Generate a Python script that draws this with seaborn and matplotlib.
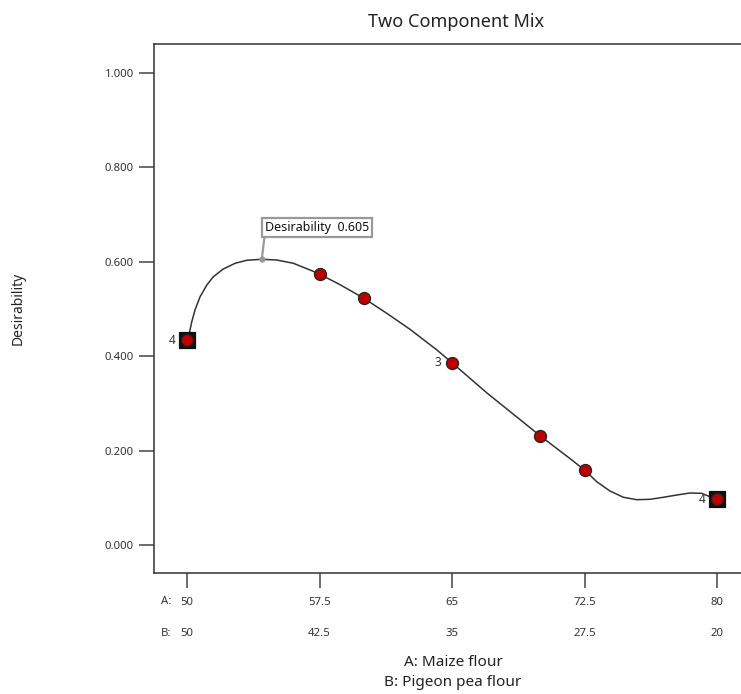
import matplotlib
matplotlib.use("Agg")
import matplotlib.pyplot as plt
import seaborn as sns
import pandas as pd

# curve (A: maize flour %, desirability)
curve_a = [50, 50.13, 50.27, 50.45, 50.74, 51.12, 51.49, 52.05, 52.72, 53.38,
           54.23, 55.08, 56.02, 57.06, 57.5, 58.66, 60, 61.30, 62.62, 64.15,
           65, 66.98, 70, 71.68, 72.5, 73.19, 73.94, 74.70, 75.45,
           76.21, 76.96, 77.72, 78.47, 79.13, 79.60, 80]
curve_d = [0.434, 0.4485, 0.4731, 0.4979, 0.5261, 0.5508, 0.5684, 0.5847, 0.5968, 0.6032,
           0.6053, 0.6038, 0.5968, 0.5811, 0.574, 0.5515, 0.523, 0.491, 0.457, 0.413,
           0.386, 0.322, 0.231, 0.183, 0.159, 0.1341, 0.1144, 0.1011, 0.0960,
           0.0968, 0.1011, 0.1059, 0.1102, 0.1095, 0.1023, 0.097]

# design points
pts_a = [50, 57.5, 60, 65, 70, 72.5, 80]
pts_d = [0.434, 0.574, 0.523, 0.386, 0.231, 0.159, 0.097]
end_a = [50, 80]
end_d = [0.434, 0.097]
rep_a = [50, 65, 80]
rep_d = [0.434, 0.386, 0.097]
rep_n = ["4", "3", "4"]

peak_a = 54.23
peak_d = 0.605

ticks_a = [50, 57.5, 65, 72.5, 80]
ticks_b = [50, 42.5, 35, 27.5, 20]
yticks = [0, 0.2, 0.4, 0.6, 0.8, 1.0]

sns.set_style("ticks")
plt.rcParams["font.family"] = ["Noto Sans", "DejaVu Sans"]

W, H = 741, 694
fig = plt.figure(figsize=(W / 100, H / 100), dpi=100)
ax = fig.add_axes([154 / W, 1 - 573 / H, (758 - 154) / W, (573 - 44) / H])

curve = pd.DataFrame({"a": curve_a, "d": curve_d})
pts = pd.DataFrame({"a": pts_a, "d": pts_d})
ends = pd.DataFrame({"a": end_a, "d": end_d})

sns.lineplot(data=curve, x="a", y="d", ax=ax, color="#333333", lw=1.1,
             sort=False, zorder=2)
sns.scatterplot(data=ends, x="a", y="d", ax=ax, marker="s", s=120,
                color="#111111", edgecolor="#111111", zorder=3)
sns.scatterplot(data=pts, x="a", y="d", ax=ax, marker="o", s=75,
                color="#bb0000", edgecolor="#222222", linewidth=0.9, zorder=4)

for a, d, n in zip(rep_a, rep_d, rep_n):
    ax.annotate(n, (a, d), xytext=(-8, 0), textcoords="offset points",
                ha="right", va="center", fontsize=8.5, color="#333333")

ax.scatter([peak_a], [peak_d], s=12, color="#999999", zorder=5)
ax.annotate(f"Desirability  {peak_d:.3f}", (peak_a, peak_d),
            xytext=(2.2, 18.4), textcoords="offset points",
            ha="left", va="bottom", fontsize=9, color="#111111",
            bbox=dict(boxstyle="square,pad=0.25", fc="white", ec="#999999", lw=1.6),
            arrowprops=dict(arrowstyle="-", color="#999999", lw=1.6,
                            relpos=(0, 0), shrinkA=0, shrinkB=0))

ax.set_xlim(48.13, 82.32)
ax.set_ylim(-0.0593, 1.0614)
ax.set_yticks(yticks)
ax.set_yticklabels([f"{v:.3f}" for v in yticks])
ax.set_xticks(ticks_a)
labels = [f"{a:g}\n{b:g}" for a, b in zip(ticks_a, ticks_b)]
ax.set_xticklabels(labels, linespacing=3.5)
ax.set_xlabel("")
ax.set_ylabel("")

for side in ["left", "bottom", "top"]:
    ax.spines[side].set_linewidth(1.1)
    ax.spines[side].set_color("#333333")
ax.spines["right"].set_visible(False)
ax.tick_params(axis="both", length=11, width=1.1, color="#444444",
               labelsize=8.2, labelcolor="#333333")
ax.tick_params(axis="y", pad=3.5)
ax.tick_params(axis="x", pad=6)

fig.text(161 / W, 1 - 602 / H, "A:", fontsize=8.2, color="#333333", va="center")
fig.text(161 / W, 1 - 633 / H, "B:", fontsize=8.2, color="#333333", va="center")

fig.text(456 / W, 1 - 22 / H, "Two Component Mix", ha="center", va="center",
         fontsize=13, color="#222222")
fig.text(453 / W, 1 - 663 / H, "A: Maize flour", ha="center", va="center",
         fontsize=11, color="#222222")
fig.text(453 / W, 1 - 683 / H, "B: Pigeon pea flour", ha="center", va="center",
         fontsize=11, color="#222222")
fig.text(18 / W, 1 - 308 / H, "Desirability", rotation=90, ha="center",
         va="center", fontsize=10, color="#222222")

fig.savefig("out.png", dpi=100)
